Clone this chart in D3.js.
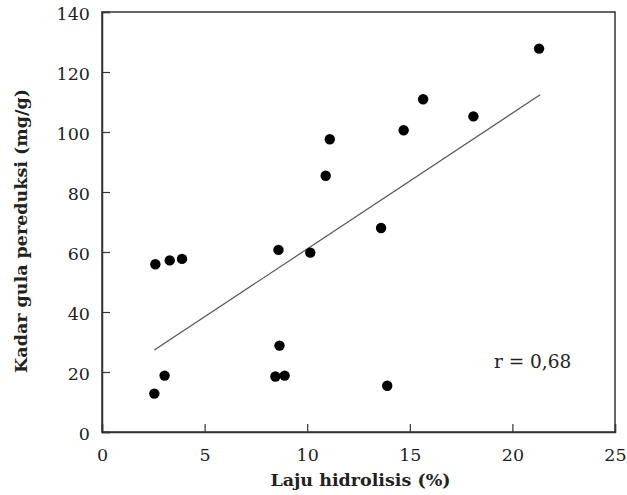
<!DOCTYPE html>
<html>
<head>
<meta charset="utf-8">
<script src="https://cdn.jsdelivr.net/npm/d3@7"></script>
<style>
  body { margin: 0; background: #fff; }
  svg text { font-family: "DejaVu Serif", "Liberation Serif", serif; fill: #222; }
</style>
</head>
<body>
<div id="chart"></div>
<script>
// values
var lajuHidrolisis = [2.6, 3.3, 3.9, 8.6, 10.15, 8.65, 8.45, 8.9, 3.05, 2.55, 13.9, 21.3, 15.65, 18.1, 14.7, 11.1, 10.9, 13.6];
var kadarGula      = [55.9, 57.2, 57.7, 60.7, 59.8, 28.8, 18.5, 18.8, 18.8, 12.8, 15.4, 127.8, 110.9, 105.2, 100.6, 97.6, 85.4, 68.0];
var trendX = [2.55, 21.35];
var trendY = [27.3, 112.4];
var xTicks = [0, 5, 10, 15, 20, 25];
var yTicks = [0, 20, 40, 60, 80, 100, 120, 140];

var margin = { top: 12, right: 12, bottom: 63, left: 102 },
    width = 627 - margin.left - margin.right,
    height = 495 - margin.top - margin.bottom;

var svg = d3.select('#chart').append('svg')
    .attr('width', 627)
    .attr('height', 495)
  .append('g')
    .attr('transform', 'translate(' + margin.left + ',' + margin.top + ')');

var x = d3.scaleLinear().domain([0, 25]).range([0, width]);
var y = d3.scaleLinear().domain([0, 140]).range([height, 0]);

// frame
svg.append('rect')
    .attr('width', width)
    .attr('height', height)
    .attr('fill', 'none')
    .attr('stroke', '#333')
    .attr('stroke-width', 1.5);

var xAxis = svg.append('g')
    .attr('transform', `translate(0, ${height})`)
    .call(d3.axisBottom(x).tickValues(xTicks).tickSize(-8).tickPadding(17));
var yAxis = svg.append('g')
    .call(d3.axisLeft(y).tickValues(yTicks).tickSize(-8).tickPadding(12));

[xAxis, yAxis].forEach(function(a) {
  a.select('.domain').attr('stroke', '#333').attr('stroke-width', 1.5);
  a.selectAll('.tick line').attr('stroke', '#333').attr('stroke-width', 1.2);
  a.selectAll('.tick text')
    .style('font-family', '"DejaVu Serif", serif')
    .style('font-size', '17.5px')
    .attr('fill', '#222');
});
yAxis.selectAll('.tick text').attr('dy', '0.4em');

// trend line
svg.append('line')
    .attr('x1', x(trendX[0])).attr('y1', y(trendY[0]))
    .attr('x2', x(trendX[1])).attr('y2', y(trendY[1]))
    .attr('stroke', '#555')
    .attr('stroke-width', 1.2);

svg.selectAll('circle')
    .data(d3.zip(lajuHidrolisis, kadarGula))
    .join('circle')
    .attr('cx', function(d) { return x(d[0]); })
    .attr('cy', function(d) { return y(d[1]); })
    .attr('r', 5.2)
    .style('fill', '#000');

svg.append('text')
    .attr('x', x(19.1))
    .attr('y', y(21.5))
    .style('font-size', '18.5px')
    .text('r = 0,68');

svg.append('text')
    .attr('text-anchor', 'middle')
    .attr('x', width / 2 + 2)
    .attr('y', height + 54)
    .style('font-size', '17.5px')
    .style('font-weight', 'bold')
    .text('Laju hidrolisis (%)');

svg.append('text')
    .attr('text-anchor', 'middle')
    .attr('transform', `translate(-75, ${height / 2 + 9}) rotate(-90)`)
    .style('font-size', '17.5px')
    .style('font-weight', 'bold')
    .text('Kadar gula pereduksi (mg/g)');
</script>
</body>
</html>
